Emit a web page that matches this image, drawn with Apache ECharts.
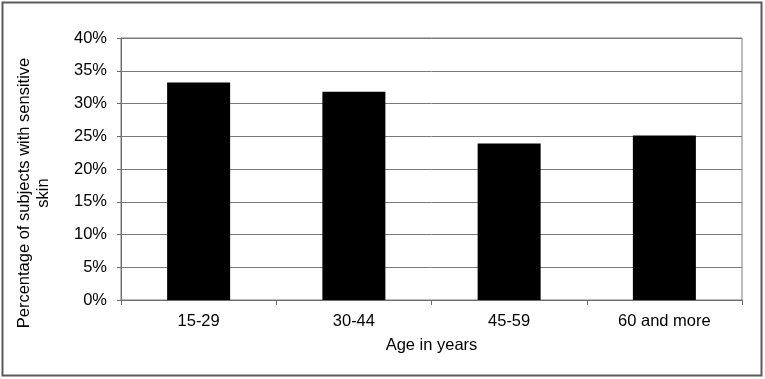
<!DOCTYPE html>
<html>
<head>
<meta charset="utf-8">
<script src="https://cdn.jsdelivr.net/npm/echarts@6/dist/echarts.min.js"></script>
<style>
html,body{margin:0;padding:0;background:#fff;}
#chart{width:765px;height:379px;}
</style>
</head>
<body>
<div id="chart"></div>
<script>
var categories = ['15-29', '30-44', '45-59', '60 and more'];
var values = [33.2, 31.8, 23.9, 25.1];
var yTicks = [0, 5, 10, 15, 20, 25, 30, 35, 40];
var yAxisTitle = 'Percentage of subjects with sensitive\nskin';
var xAxisTitle = 'Age in years';

var FONT = 'Liberation Sans, Arial, sans-serif';
var FS = 16.5;
var chart = echarts.init(document.getElementById('chart'));
chart.setOption({
  animation: false,
  backgroundColor: '#fff',
  grid: {left: 121, right: 23, top: 38, bottom: 79, show: true, borderColor: '#7a7a7a', borderWidth: 1, backgroundColor: 'transparent'},
  xAxis: {
    type: 'category',
    data: categories,
    name: xAxisTitle,
    nameLocation: 'middle',
    nameGap: 37,
    nameTextStyle: {fontFamily: FONT, fontSize: FS, color: '#000'},
    axisLine: {lineStyle: {color: '#6e6e6e', width: 1}},
    axisTick: {show: true, length: 5, alignWithLabel: false, lineStyle: {color: '#6e6e6e'}},
    axisLabel: {fontFamily: FONT, fontSize: FS, color: '#000', margin: 13}
  },
  yAxis: {
    type: 'value',
    min: yTicks[0],
    max: yTicks[yTicks.length - 1],
    interval: 5,
    axisLine: {show: true, lineStyle: {color: '#6e6e6e', width: 1}},
    axisTick: {show: true, length: 4, lineStyle: {color: '#6e6e6e'}},
    splitLine: {show: true, lineStyle: {color: '#7a7a7a', width: 1}},
    axisLabel: {fontFamily: FONT, fontSize: FS, color: '#000', margin: 14, formatter: function (v) { return v + '%'; }}
  },
  graphic: [
    {type: 'rect', shape: {x: 2.5, y: 2.5, width: 759, height: 373}, style: {fill: 'none', stroke: '#5a5a5a', lineWidth: 2}, z: 100},
    {type: 'text', x: 34, y: 193, rotation: Math.PI / 2,
     style: {text: yAxisTitle, fontFamily: FONT, fontSize: FS, fill: '#000', align: 'center', verticalAlign: 'middle', lineHeight: 19}}
  ],
  series: [{
    type: 'bar',
    data: values,
    barWidth: 63,
    itemStyle: {color: '#000'}
  }]
});
</script>
</body>
</html>
